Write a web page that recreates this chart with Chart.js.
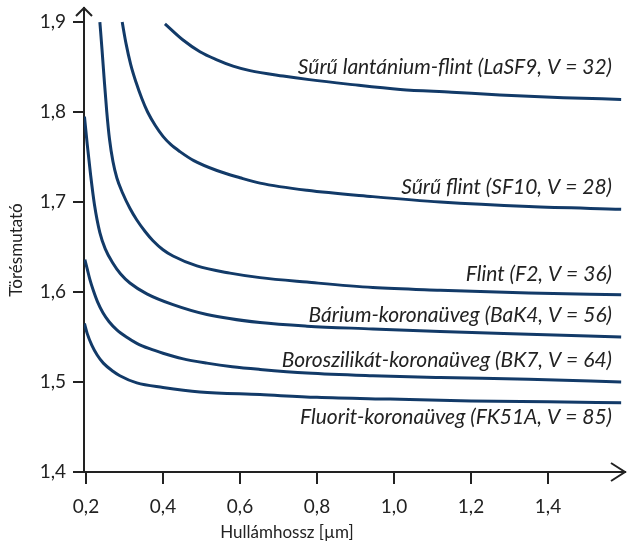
<!DOCTYPE html>
<html>
<head>
<meta charset="utf-8">
<script src="https://cdn.jsdelivr.net/npm/chart.js@4"></script>
<style>
  html, body { margin: 0; padding: 0; background: #fff; }
  #wrap { width: 627px; height: 545px; }
</style>
</head>
<body>
<div id="wrap"><canvas id="chart" width="627" height="545"></canvas></div>
<script>
// Axis ticks
const xTicks = [0.2, 0.4, 0.6, 0.8, 1.0, 1.2, 1.4];
const yTicks = [1.4, 1.5, 1.6, 1.7, 1.8, 1.9];

// Glass names (curve labels)
const glassNames = [
    'Sűrű lantánium-flint (LaSF9, V = 32)',
    'Sűrű flint (SF10, V = 28)',
    'Flint (F2, V = 36)',
    'Bárium-koronaüveg (BaK4, V = 56)',
    'Boroszilikát-koronaüveg (BK7, V = 64)',
    'Fluorit-koronaüveg (FK51A, V = 85)'
];

// Wavelength [µm] and refractive index
const lasf9Wl = [0.405, 0.452, 0.496, 0.54, 0.582, 0.626, 0.712, 0.78, 0.88, 1.016, 1.15, 1.275, 1.44, 1.59];
const lasf9N  = [1.898, 1.880, 1.867, 1.858, 1.851, 1.846, 1.840, 1.836, 1.831, 1.825, 1.822, 1.819, 1.816, 1.814];

const sf10Wl = [0.294, 0.304, 0.316, 0.33, 0.345, 0.36, 0.38, 0.40, 0.42, 0.444, 0.48, 0.54, 0.60, 0.652, 0.774, 0.945, 1.12, 1.35, 1.59];
const sf10N  = [1.900, 1.876, 1.853, 1.833, 1.815, 1.800, 1.785, 1.773, 1.764, 1.756, 1.746, 1.735, 1.727, 1.721, 1.713, 1.706, 1.700, 1.695, 1.692];

const f2Wl = [0.236, 0.2415, 0.247, 0.254, 0.261, 0.27, 0.28, 0.295, 0.314, 0.332, 0.354, 0.374, 0.40, 0.426, 0.488, 0.574, 0.652, 0.774, 0.945, 1.12, 1.35, 1.59];
const f2N  = [1.900, 1.870, 1.838, 1.800, 1.770, 1.745, 1.727, 1.710, 1.693, 1.680, 1.667, 1.657, 1.647, 1.640, 1.629, 1.621, 1.616, 1.611, 1.605, 1.602, 1.599, 1.597];

const bak4Wl = [0.196, 0.203, 0.212, 0.222, 0.236, 0.25, 0.27, 0.29, 0.314, 0.358, 0.426, 0.514, 0.652, 0.774, 0.945, 1.12, 1.35, 1.59];
const bak4N  = [1.795, 1.765, 1.730, 1.697, 1.666, 1.648, 1.632, 1.620, 1.610, 1.598, 1.586, 1.575, 1.566, 1.562, 1.559, 1.556, 1.553, 1.550];

const bk7Wl = [0.197, 0.203, 0.21, 0.218, 0.23, 0.244, 0.26, 0.28, 0.305, 0.332, 0.365, 0.40, 0.45, 0.514, 0.58, 0.652, 0.774, 0.945, 1.12, 1.35, 1.59];
const bk7N  = [1.636, 1.626, 1.614, 1.603, 1.589, 1.577, 1.567, 1.558, 1.550, 1.543, 1.537, 1.532, 1.526, 1.521, 1.517, 1.514, 1.510, 1.507, 1.505, 1.503, 1.500];

const fk51aWl = [0.196, 0.203, 0.215, 0.229, 0.245, 0.27, 0.288, 0.332, 0.40, 0.496, 0.652, 0.80, 0.99, 1.2, 1.4, 1.59];
const fk51aN  = [1.565, 1.554, 1.541, 1.530, 1.521, 1.512, 1.507, 1.499, 1.494, 1.489, 1.486, 1.483, 1.481, 1.479, 1.478, 1.477];

const curveWl = [lasf9Wl, sf10Wl, f2Wl, bak4Wl, bk7Wl, fk51aWl];
const curveN = [lasf9N, sf10N, f2N, bak4N, bk7N, fk51aN];

const LINE_COLOR = '#123a68';
const INK = '#222222';
const FONT = 'Lato, "Open Sans", "DejaVu Sans", sans-serif';

function fmt(v) {
    return v.toFixed(1).replace('.', ',');
}

// Arrows, axis titles and curve labels
const decorPlugin = {
    id: 'decor',
    afterDraw(chart) {
        const ctx = chart.ctx;
        const area = chart.chartArea;
        const yScale = chart.scales.y;

        ctx.save();
        ctx.strokeStyle = INK;
        ctx.lineWidth = 2;
        // y arrow
        ctx.beginPath();
        ctx.moveTo(area.left - 8, area.top + 8);
        ctx.lineTo(area.left, area.top);
        ctx.lineTo(area.left + 8, area.top + 8);
        ctx.stroke();
        // x arrow
        ctx.beginPath();
        ctx.moveTo(area.right - 14, area.bottom - 9);
        ctx.lineTo(area.right, area.bottom);
        ctx.lineTo(area.right - 14, area.bottom + 9);
        ctx.stroke();

        // axis titles
        ctx.fillStyle = INK;
        ctx.font = '17px ' + FONT;
        ctx.textAlign = 'center';
        ctx.textBaseline = 'middle';
        ctx.fillText('Hullámhossz [µm]', 287, 533);
        ctx.save();
        ctx.translate(17, 250);
        ctx.rotate(-Math.PI / 2);
        ctx.fillText('Törésmutató', 0, 0);
        ctx.restore();

        // curve labels, right aligned near the end of each curve
        const shift = [-32, -22, -20, -22, -22, 15];
        ctx.font = 'italic 21px ' + FONT;
        ctx.textAlign = 'right';
        glassNames.forEach((name, i) => {
            const n = curveN[i];
            const y = yScale.getPixelForValue(n[n.length - 1]) + shift[i];
            ctx.fillText(name, area.right - 13, y);
        });
        ctx.restore();
    }
};

const datasets = curveWl.map((wl, i) => ({
    label: glassNames[i],
    data: wl.map((x, k) => ({ x: x, y: curveN[i][k] })),
    borderColor: LINE_COLOR,
    borderWidth: 3,
    pointRadius: 0,
    cubicInterpolationMode: 'monotone',
    fill: false
}));

new Chart(document.getElementById('chart').getContext('2d'), {
    type: 'line',
    data: { datasets: datasets },
    options: {
        responsive: false,
        animation: false,
        layout: { padding: { top: 8, right: 2, left: 0, bottom: 0 } },
        plugins: {
            legend: { display: false },
            tooltip: { enabled: false }
        },
        scales: {
            x: {
                type: 'linear',
                min: 0.1948,
                max: 1.6,
                afterBuildTicks: scale => { scale.ticks = xTicks.map(v => ({ value: v })); },
                afterFit: scale => {
                    scale.height = 73;
                    scale.paddingLeft = 0;
                    scale.paddingRight = 0;
                },
                ticks: {
                    callback: v => fmt(v),
                    color: INK,
                    font: { family: FONT, size: 19 },
                    padding: 11,
                    maxRotation: 0
                },
                grid: { drawOnChartArea: false, drawTicks: true, tickLength: 12, color: INK, lineWidth: 2 },
                border: { display: true, color: INK, width: 2 }
            },
            y: {
                type: 'linear',
                min: 1.4,
                max: 1.9156,
                afterBuildTicks: scale => { scale.ticks = yTicks.map(v => ({ value: v })); },
                afterFit: scale => {
                    scale.width = 84;
                    scale.paddingTop = 0;
                    scale.paddingBottom = 0;
                },
                ticks: {
                    callback: v => fmt(v),
                    color: INK,
                    font: { family: FONT, size: 19 },
                    padding: 7
                },
                grid: { drawOnChartArea: false, drawTicks: true, tickLength: 11, color: INK, lineWidth: 2 },
                border: { display: true, color: INK, width: 2 }
            }
        }
    },
    plugins: [decorPlugin]
});
</script>
</body>
</html>
